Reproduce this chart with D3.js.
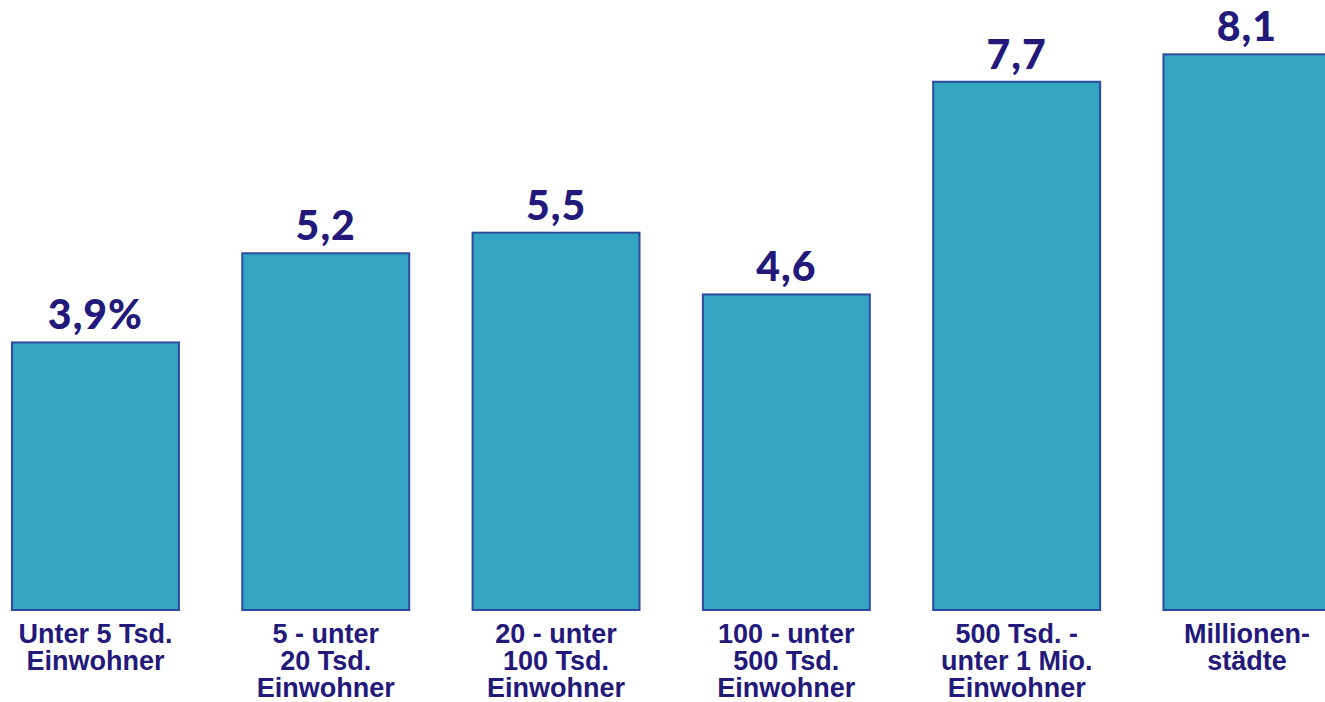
<!DOCTYPE html>
<html>
<head>
<meta charset="utf-8">
<script src="https://cdn.jsdelivr.net/npm/d3@7"></script>
<style>
  html, body { margin: 0; padding: 0; background: #fff; }
  svg { display: block; }
</style>
</head>
<body>
<svg id="chart"></svg>
<script>
// city size classes (label lines) and share in %
const categories = [
    ["Unter 5 Tsd.", "Einwohner"],
    ["5 - unter", "20 Tsd.", "Einwohner"],
    ["20 - unter", "100 Tsd.", "Einwohner"],
    ["100 - unter", "500 Tsd.", "Einwohner"],
    ["500 Tsd. -", "unter 1 Mio.", "Einwohner"],
    ["Millionen-", "städte"]
];
const values = [3.9, 5.2, 5.5, 4.6, 7.7, 8.1];
const suffixes = ["%", "", "", "", "", ""];

const width = 1325, height = 702;
const baseline = 610;

const svg = d3.select("#chart")
    .attr("width", width)
    .attr("height", height);

const de = d3.formatLocale({decimal: ",", thousands: ".", grouping: [3], currency: ["", " €"]});
const fmt = de.format(".1f");

let x = d3.scaleBand()
    .domain(d3.range(values.length))
    .range([-19.7, 1362.1])
    .paddingInner(0.275)
    .paddingOuter(0.1375);

// 68.6 px per percent point
let y = d3.scaleLinear()
    .domain([0, 10])
    .range([baseline, baseline - 686]);

const navy = "#22197b";

svg.selectAll("rect.bar")
    .data(values)
    .join("rect")
    .attr("class", "bar")
    .attr("x", (d, i) => x(i))
    .attr("y", d => y(d))
    .attr("width", x.bandwidth())
    .attr("height", d => baseline - y(d))
    .attr("fill", "#33a5c3")
    .attr("stroke", "#2d4a9f")
    .attr("stroke-width", 2);

svg.selectAll("text.val")
    .data(values)
    .join("text")
    .attr("class", "val")
    .attr("x", (d, i) => x(i) + x.bandwidth() / 2)
    .attr("y", d => y(d) - 13)
    .attr("text-anchor", "middle")
    .attr("font-family", "Lato, 'DejaVu Sans', sans-serif")
    .attr("font-weight", 900)
    .attr("font-size", 41)
    .attr("letter-spacing", 1)
    .attr("fill", navy)
    .text((d, i) => fmt(d) + suffixes[i]);

// one text per label line
svg.selectAll("g.cat")
    .data(categories)
    .join("g")
    .attr("class", "cat")
    .attr("transform", (d, i) => `translate(${x(i) + x.bandwidth() / 2},0)`)
    .selectAll("text")
    .data(d => d)
    .join("text")
    .attr("y", (d, j) => 643 + j * 27)
    .attr("text-anchor", "middle")
    .attr("font-family", "'Liberation Sans', Arial, sans-serif")
    .attr("font-weight", "bold")
    .attr("font-size", 27)
    .attr("fill", navy)
    .text(d => d);
</script>
</body>
</html>
